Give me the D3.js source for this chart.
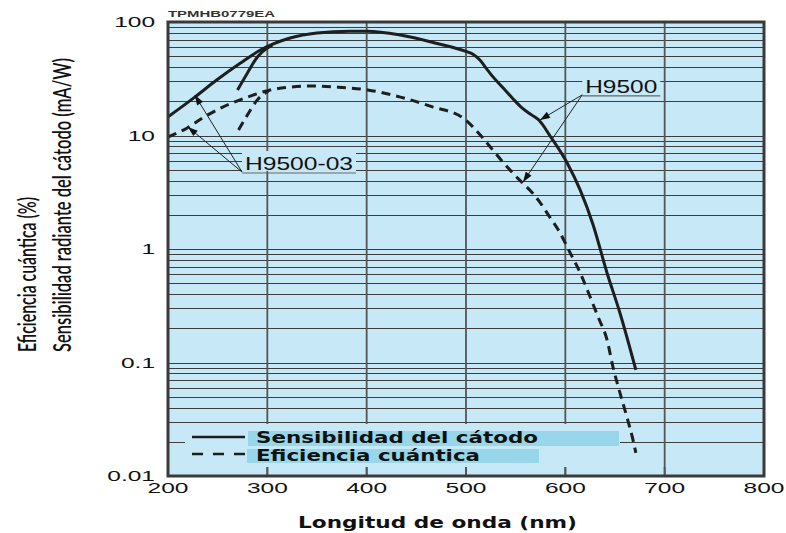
<!DOCTYPE html>
<html>
<head>
<meta charset="utf-8">
<script src="https://cdn.jsdelivr.net/npm/d3@7/dist/d3.min.js"></script>
<style>
  body { margin: 0; background: #fff; }
  text { fill: #111; }
</style>
</head>
<body>
<svg id="chart" width="786" height="533"></svg>
<script>
// wavelength (nm) and values
const sensWl03 = [200, 227, 249, 273, 293, 323, 350, 383, 401, 434, 470, 500, 507, 514, 521, 527, 537, 547, 557, 566, 574, 585, 602, 615, 628, 642, 655, 671];
const sens03 = [14.6, 21.8, 30.8, 43.5, 56.6, 72.3, 80, 83, 83, 76.8, 65, 55, 52, 46.2, 38.5, 33, 26.5, 21.2, 17.3, 15.2, 13.5, 9.8, 5.7, 3.3, 1.63, 0.615, 0.273, 0.086];
const sensWl = [270, 280, 290, 300, 305];
const sens = [25.2, 35.6, 49.2, 59, 62];

const qeWl03 = [200, 219, 235, 255, 280, 303, 323, 343, 370, 401, 434, 467, 497, 507, 517, 527, 537, 547, 557, 567, 575, 583, 593, 605, 615, 625, 633, 642, 648, 655, 662, 668, 671];
const qe03 = [9.7, 11.6, 14.3, 17.8, 21.8, 25.2, 26.7, 27.3, 26.7, 25.2, 21.8, 17.8, 14.3, 11.9, 9.5, 7.45, 5.85, 4.68, 3.81, 3.11, 2.54, 1.99, 1.47, 0.92, 0.615, 0.378, 0.252, 0.158, 0.091, 0.054, 0.033, 0.021, 0.016];
const qeWl = [271, 280, 290, 301];
const qe = [11.2, 15.2, 20.6, 24.5];

const xTicks = [200, 300, 400, 500, 600, 700, 800];
const yTicks = [0.01, 0.1, 1, 10, 100];
const yTickLabels = ['0.01', '0.1', '1', '10', '100'];
const legendLabels = ['Sensibilidad del cátodo', 'Eficiencia cuántica'];

// annotation anchors [label wl, label value] and arrow tips [wl, value]
const notes = [
  { label: 'H9500-03', at: [274.5, 4.77], tips: [[227, 22.7], [220, 11.9]] },
  { label: 'H9500', at: [617, 22.8], tips: [[574.5, 13.7], [557.4, 3.89]] }
];

const bg = '#c6e8f7';
const svg = d3.select('#chart');

const pLeft = 168, pRight = 764, pTop = 22, pBottom = 476;
const x = d3.scaleLinear().domain([200, 800]).range([pLeft, pRight]);
const y = d3.scaleLog().domain([0.01, 100]).range([pBottom, pTop]);

// text helper: the reference is stretched sideways, so scale glyphs horizontally
function stretched(g, str, px, py, sx, opts) {
  const t = g.append('text')
    .attr('transform', `translate(${px},${py}) scale(${sx},1)` + (opts.rotate ? ' rotate(-90)' : ''))
    .attr('text-anchor', opts.anchor || 'start')
    .style('font-family', opts.family || '"Liberation Sans", Arial, sans-serif')
    .style('font-size', opts.size + 'px')
    .style('font-weight', opts.weight || 'normal')
    .text(str);
  if (opts.length) {
    t.attr('textLength', opts.length).attr('lengthAdjust', 'spacingAndGlyphs');
  }
  return t;
}

svg.append('rect')
  .attr('x', pLeft).attr('y', pTop)
  .attr('width', pRight - pLeft).attr('height', pBottom - pTop)
  .attr('fill', bg);

// horizontal log grid
const grid = svg.append('g');
grid.selectAll('.hgrid')
  .data(y.ticks().filter(v => v > 0.0101 && v < 99))
  .enter().append('line')
    .attr('class', 'hgrid')
    .attr('x1', pLeft).attr('x2', pRight)
    .attr('y1', d => Math.round(y(d)) + 0.5)
    .attr('y2', d => Math.round(y(d)) + 0.5)
    .attr('stroke', '#3c3c3c')
    .attr('stroke-width', 1);

grid.selectAll('.vgrid')
  .data(xTicks.slice(1, -1))
  .enter().append('line')
    .attr('class', 'vgrid')
    .attr('x1', d => x(d)).attr('x2', d => x(d))
    .attr('y1', pTop).attr('y2', pBottom)
    .attr('stroke', '#555')
    .attr('stroke-width', 1.8);

// legend panel hides the grid
const legend = svg.append('g');
legend.append('rect')
  .attr('x', 185).attr('y', 424)
  .attr('width', 435).attr('height', 43)
  .attr('fill', bg);

svg.append('g').selectAll('line')
  .data(xTicks.slice(1, -1))
  .enter().append('line')
    .attr('x1', d => x(d)).attr('x2', d => x(d))
    .attr('y1', pBottom - 9).attr('y2', pBottom)
    .attr('stroke', '#555')
    .attr('stroke-width', 1.8);

legend.append('rect').attr('x', 248).attr('y', 431).attr('width', 371).attr('height', 15).attr('fill', '#97d7e9');
legend.append('rect').attr('x', 247).attr('y', 449).attr('width', 292).attr('height', 14).attr('fill', '#97d7e9');
legend.append('line')
  .attr('x1', 192).attr('x2', 245).attr('y1', 437).attr('y2', 437)
  .attr('stroke', '#1e1e1e').attr('stroke-width', 2.5);
legend.append('line')
  .attr('x1', 192).attr('x2', 246).attr('y1', 454).attr('y2', 454)
  .attr('stroke', '#1e1e1e').attr('stroke-width', 2.5)
  .attr('stroke-dasharray', '11,10');
stretched(legend, legendLabels[0], 256, 443, 1, { size: 15, weight: 'bold', family: '"DejaVu Sans", Verdana, sans-serif', length: 282 });
stretched(legend, legendLabels[1], 256, 461, 1, { size: 15, weight: 'bold', family: '"DejaVu Sans", Verdana, sans-serif', length: 224 });

// curves
const line = d3.line()
  .x(d => x(d[0]))
  .y(d => y(d[1]))
  .curve(d3.curveMonotoneX);

const curves = svg.append('g').attr('fill', 'none').attr('stroke', '#1e1e1e');
curves.append('path').attr('d', line(d3.zip(sensWl03, sens03))).attr('stroke-width', 3);
curves.append('path').attr('d', line(d3.zip(sensWl, sens))).attr('stroke-width', 3);
curves.append('path').attr('d', line(d3.zip(qeWl03, qe03))).attr('stroke-width', 3).attr('stroke-dasharray', '9,6');
curves.append('path').attr('d', line(d3.zip(qeWl, qe))).attr('stroke-width', 3).attr('stroke-dasharray', '9,6');

// annotations
svg.append('defs').append('marker')
  .attr('id', 'head')
  .attr('viewBox', '0 0 10 7')
  .attr('refX', 10).attr('refY', 3.5)
  .attr('markerUnits', 'userSpaceOnUse')
  .attr('markerWidth', 12).attr('markerHeight', 7)
  .attr('orient', 'auto')
  .append('path').attr('d', 'M0,0 L10,3.5 L0,7 z').attr('fill', '#111');

const ann = svg.append('g');
notes.forEach((n) => {
  const ax = x(n.at[0]), ay = y(n.at[1]);
  const w = n.label.length > 6 ? 114 : 78;
  ann.append('rect')
    .attr('x', ax).attr('y', ay - 21)
    .attr('width', w).attr('height', 20)
    .attr('fill', bg);
  ann.append('line')
    .attr('x1', ax).attr('x2', ax + w).attr('y1', ay + 1).attr('y2', ay + 1)
    .attr('stroke', '#666').attr('stroke-width', 1.2);
  n.tips.forEach((t) => {
    ann.append('line')
      .attr('x1', ax).attr('y1', ay)
      .attr('x2', x(t[0])).attr('y2', y(t[1]))
      .attr('stroke', '#222').attr('stroke-width', 1)
      .attr('marker-end', 'url(#head)');
  });
  stretched(ann, n.label, ax + 3, ay - 2, 1, { size: 18, length: n.label.length > 6 ? 108 : 72 });
});

// frame
svg.append('rect')
  .attr('x', pLeft).attr('y', pTop)
  .attr('width', pRight - pLeft).attr('height', pBottom - pTop)
  .attr('fill', 'none')
  .attr('stroke', '#3a3a3a')
  .attr('stroke-width', 3);

// tick labels
const lab = svg.append('g');
xTicks.forEach((v) => {
  stretched(lab, String(v), x(v), 493, 1.75, { size: 14, anchor: 'middle' });
});
yTicks.forEach((v, i) => {
  stretched(lab, yTickLabels[i], 155, y(v) + 5, 1.75, { size: 14, anchor: 'end' });
});

stretched(svg, 'TPMHB0779EA', 168, 17, 1, { size: 9, weight: 'bold', length: 107 }).style('fill', '#333');

stretched(svg, 'Longitud de onda (nm)', 298, 528, 1, { size: 16, weight: 'bold', family: '"DejaVu Sans", Verdana, sans-serif', length: 279 });

const yTitleFont = 'Lato, "Open Sans", sans-serif';
stretched(svg, 'Eficiencia cuántica (%)', 36, 352, 1.45, { size: 17, rotate: true, length: 155, family: yTitleFont, weight: 600 });
stretched(svg, 'Sensibilidad radiante del cátodo (mA/W)', 71, 352, 1.45, { size: 17, rotate: true, length: 294, family: yTitleFont, weight: 600 });
</script>
</body>
</html>
